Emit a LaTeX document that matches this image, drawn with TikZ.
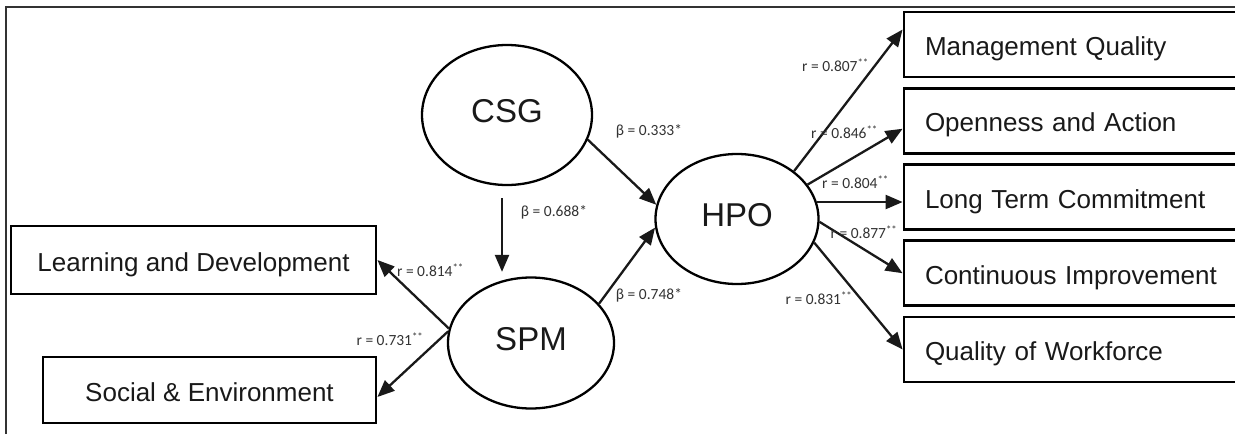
\documentclass[tikz,border=0pt]{standalone}
\usepackage{fontspec}
\setmainfont{Liberation Sans}
\newfontfamily\lblfont{Carlito}
\usetikzlibrary{arrows.meta,positioning,shapes.geometric}

\tikzset{
  latent/.style={ellipse,draw,line width=2.3pt,inner sep=0pt,text height=15pt,text depth=0pt,
    font=\fontsize{33}{36}\selectfont,text=black!90},
  indic/.style={rectangle,draw,line width=2.8pt,inner xsep=21pt,inner ysep=0pt,minimum height=65pt,
    text width=303pt,align=left,text height=22pt,text depth=0pt,font=\fontsize{26}{30}\selectfont,text=black!90},
  leftbox/.style={rectangle,draw,line width=2.8pt,inner sep=0pt,text height=22pt,text depth=0pt,
    font=\fontsize{26}{30}\selectfont,text=black!90},
  coef/.style={inner sep=0pt,font=\lblfont\fontsize{15.5}{17}\selectfont,text=black!80},
  link/.style={-{Triangle[length=17pt,width=14pt]},line width=2.3pt,black!90}
}

\begin{document}
\begin{tikzpicture}[x=1pt,y=-1pt,node distance=76.25pt,on grid]
		\useasboundingbox (0,0) rectangle (1235,434);
		\draw[line width=1.3pt,black!80] (6,434) -- (6,7) -- (1240,7);
		% latent variables
		\node[latent,minimum width=170pt,minimum height=140pt](csg) at (507,115) {CSG};
		\node[latent,minimum width=166pt,minimum height=131pt](spm) at (531,343) {SPM};
		\node[latent,minimum width=163pt,minimum height=130pt](hpo) at (737,219) {HPO};
		% indicators
		\node[leftbox,minimum width=365pt,minimum height=68pt](ld) at (193.5,260) {Learning and Development};
		\node[leftbox,minimum width=333pt,minimum height=66pt](se) at (209.5,390) {Social \& Environment};
		\node[indic](mq) at (1076.5,44.5) {Management Quality};
		\node[indic](oa)[below=of mq] {Openness and Action};
		\node[indic](ltc)[below=of oa] {Long Term Commitment};
		\node[indic](ci)[below=of ltc] {Continuous Improvement};
		\node[indic](qw)[below=of ci] {Quality of Workforce};
		\coordinate (csgfoot) at ([xshift=-5pt]csg.south);
		\path[link]
		(csg.-17) edge (hpo.170)
		(csgfoot) edge [shorten <=12pt,shorten >=4.5pt] (csgfoot |- spm.north)
		(spm.30) edge (hpo.186)
		(spm.170) edge (ld.east)
		(spm.172) edge ([yshift=-7pt]se.east)
		(hpo.40) edge ([yshift=15pt]mq.west)
		(hpo.26) edge ([yshift=-8pt]oa.west)
		(hpo.12) edge (hpo.12 -| ltc.west)
		(hpo.-2) edge (ci.west)
		(hpo.-17) edge (qw.west);
		% coefficients
		\node[coef](b333) at (649,131) {β = 0.333*};
		\node[coef](b688) at (554,212) {β = 0.688*};
		\node[coef](b748) at (649,295) {β = 0.748*};
		\node[coef](r814) at (430.5,270) {r = 0.814\textsuperscript{**}};
		\node[coef](r731) at (390,339) {r = 0.731\textsuperscript{**}};
		\node[coef](r807) at (835.5,65) {r = 0.807\textsuperscript{**}};
		\node[coef](r846) at (844.5,132) {r = 0.846\textsuperscript{**}};
		\node[coef](r804) at (855.5,182) {r = 0.804\textsuperscript{**}};
		\node[coef](r877) at (864,232) {r = 0.877\textsuperscript{**}};
		\node[coef](r831) at (819,298) {r = 0.831\textsuperscript{**}};
\end{tikzpicture}
\end{document}
